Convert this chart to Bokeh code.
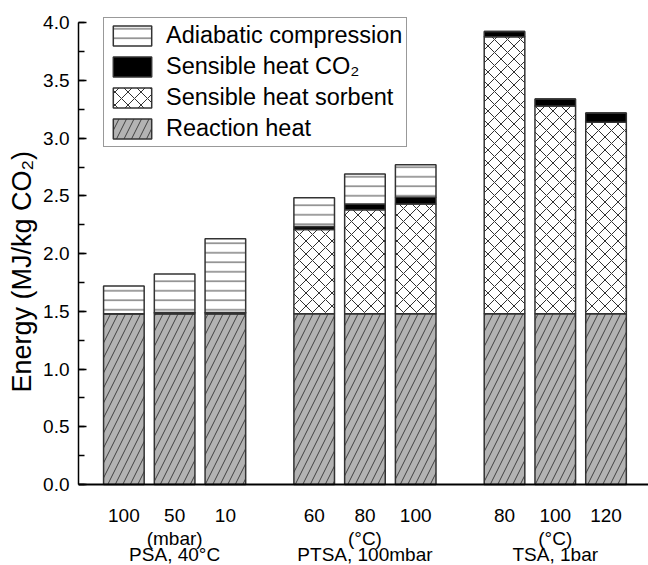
from bokeh.plotting import figure
from bokeh.models import (Range1d, SingleIntervalTicker, PrintfTickFormatter,
                          Legend, LegendItem, ColumnDataSource, Span)
from bokeh.core.properties import value
from bokeh.embed import file_html
from bokeh.resources import INLINE
import numpy as np

FONT = "Liberation Sans"

# ---- data ----
x_pos = [0, 1, 2, 3.75, 4.75, 5.75, 7.5, 8.5, 9.5]
tick_labels = ["100", "50", "10", "60", "80", "100", "80", "100", "120"]
group_pos = [1, 4.75, 8.5]
group_units = ["(mbar)", "(°C)", "(°C)"]
group_names = ["PSA, 40°C", "PTSA, 100mbar", "TSA, 1bar"]
reaction = [1.48, 1.48, 1.48, 1.48, 1.48, 1.48, 1.48, 1.48, 1.48]
sorbent = [0.0, 0.0, 0.0, 0.73, 0.90, 0.95, 2.40, 1.80, 1.66]
co2 = [0.0, 0.01, 0.01, 0.025, 0.05, 0.06, 0.045, 0.06, 0.08]
adiabatic = [0.24, 0.335, 0.64, 0.25, 0.26, 0.28, 0.0, 0.0, 0.0]

series = [reaction, sorbent, co2, adiabatic]
arr = np.array(series)
tops = np.cumsum(arr, axis=0)
bottoms = tops - arr

# frame covers the whole height; y = 0 sits at pixel 484, y = 4 at ~22
p = figure(width=648, height=565, output_backend="svg", toolbar_location=None,
           x_range=Range1d(-0.894, 10.337), y_range=Range1d(-0.702, 4.194),
           min_border_left=78, min_border_right=0, min_border_top=0, min_border_bottom=0)
p.outline_line_color = None
p.xgrid.visible = False
p.ygrid.visible = False
p.xaxis.visible = False

styles = [
    dict(fill_color="#b3b3b3", hatch_pattern="right_diagonal_line", hatch_color="#404040",
         hatch_scale=15, hatch_weight=1),
    dict(fill_color="white", hatch_pattern="diagonal_cross", hatch_color="#303030",
         hatch_scale=13, hatch_weight=1),
    dict(fill_color="black"),
    dict(fill_color="white", hatch_pattern="horizontal_line", hatch_color="#404040",
         hatch_scale=9.5, hatch_weight=1),
]
renderers = []
for i, st in enumerate(styles):
    src = ColumnDataSource(dict(x=x_pos, bottom=list(bottoms[i]), top=list(tops[i])))
    r = p.vbar(x="x", width=0.8, bottom="bottom", top="top", source=src,
               line_color="#333333", line_width=1.5, **st)
    renderers.append(r)

# x axis line at y = 0
p.add_layout(Span(location=0, dimension="width", line_color="black", line_width=2))

# bar tick labels and group labels (drawn as text below the axis line)
p.text(x=x_pos, y=[-0.269] * len(x_pos), text=tick_labels, text_align="center",
       text_baseline="middle", text_font=value(FONT), text_font_size="19px", text_color="black")
p.text(x=group_pos, y=[-0.47] * 3, text=group_units, text_align="center",
       text_baseline="middle", text_font=value(FONT), text_font_size="19px", text_color="black")
p.text(x=group_pos, y=[-0.605] * 3, text=group_names, text_align="center",
       text_baseline="middle", text_font=value(FONT), text_font_size="19px", text_color="black")

# y axis
yax = p.yaxis[0]
yax.bounds = (0, 4.0)
yax.ticker = SingleIntervalTicker(interval=0.5, num_minor_ticks=2)
yax.formatter = PrintfTickFormatter(format="%.1f")
yax.major_tick_in = 8
yax.major_tick_out = 0
yax.minor_tick_in = 6
yax.minor_tick_out = 0
yax.axis_line_width = 1.5
yax.major_tick_line_width = 1.5
yax.minor_tick_line_width = 1.5
yax.major_label_text_font = FONT
yax.major_label_text_font_size = "19px"
yax.major_label_text_color = "black"
yax.major_label_standoff = 9
yax.axis_label = "\u00a0" * 3 + "Energy (MJ/kg CO₂)"
yax.axis_label_text_font = FONT
yax.axis_label_text_font_size = "27px"
yax.axis_label_text_font_style = "normal"
yax.axis_label_text_color = "black"
yax.axis_label_standoff = 3

legend = Legend(items=[
    LegendItem(label="Adiabatic compression", renderers=[renderers[3]]),
    LegendItem(label="Sensible heat CO₂", renderers=[renderers[2]]),
    LegendItem(label="Sensible heat sorbent", renderers=[renderers[1]]),
    LegendItem(label="Reaction heat", renderers=[renderers[0]]),
], location=(25, 418))
legend.label_text_font = FONT
legend.label_text_font_size = "23.5px"
legend.label_text_color = "black"
legend.glyph_width = 48
legend.glyph_height = 25
legend.label_height = 25
legend.spacing = 4
legend.padding = 4
legend.margin = 0
legend.border_line_color = "#333333"
legend.border_line_width = 1
legend.label_standoff = 10
p.add_layout(legend, "center")

open("out.html", "w").write(file_html(p, INLINE))
